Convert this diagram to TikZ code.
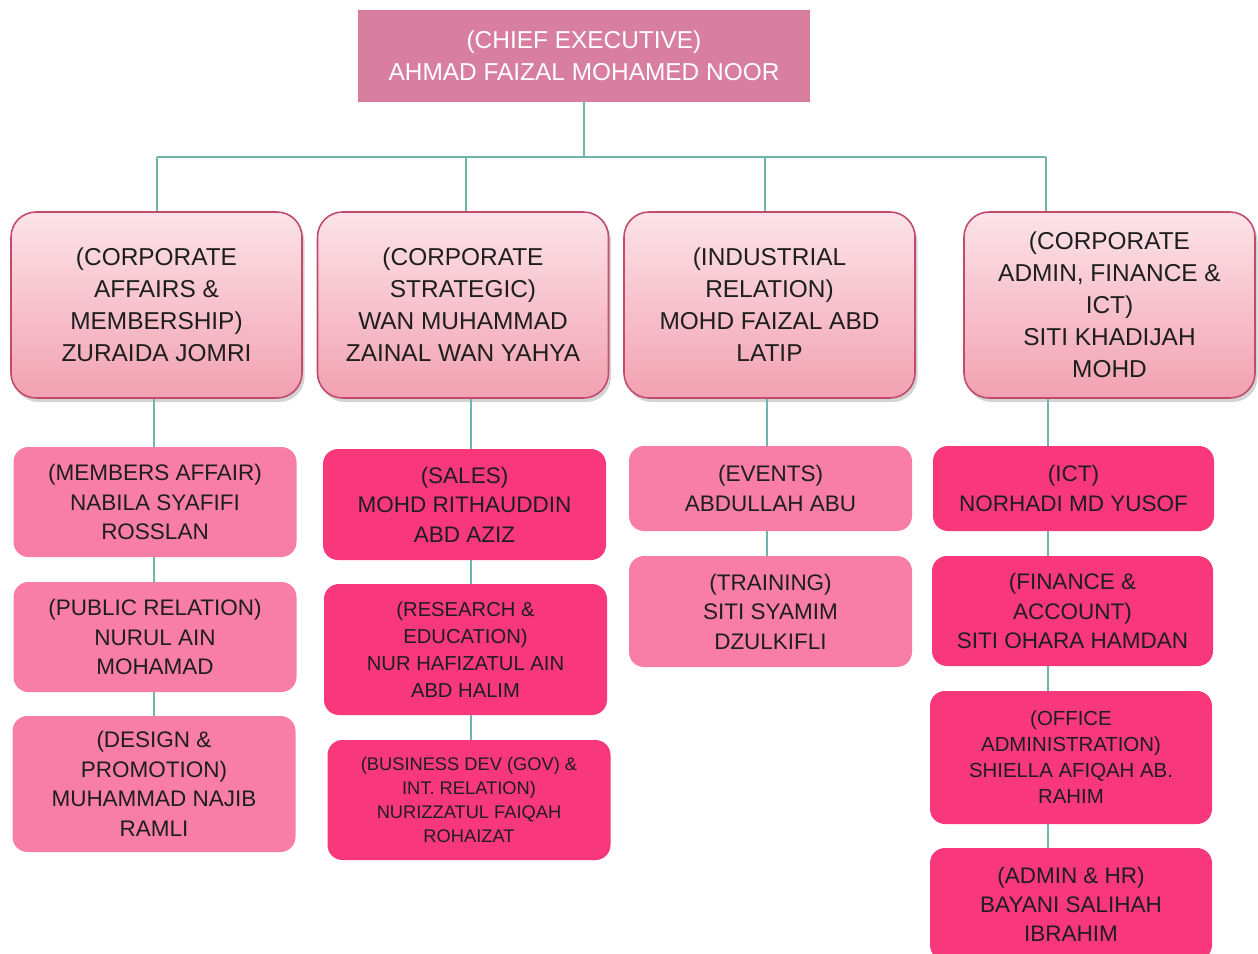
\documentclass[tikz,border=0pt]{standalone}
\usepackage{fontspec}
\setmainfont{Liberation Sans}
\usetikzlibrary{shadows}
\definecolor{ceopink}{HTML}{D87FA0}
\definecolor{depttop}{HTML}{FCE3E9}
\definecolor{deptbot}{HTML}{F2A1B1}
\definecolor{deptline}{HTML}{C24B6C}
\definecolor{unitlight}{HTML}{F87EA8}
\definecolor{unitdark}{HTML}{F8387B}
\definecolor{linkteal}{HTML}{6FB5AB}
\definecolor{inktext}{HTML}{1E1E1E}

\begin{document}
\begin{tikzpicture}[
  link/.style = {draw=linkteal, line width=0.9pt},
  ceobox/.style = {rectangle, fill=ceopink, text=white, align=center, inner sep=0pt,
    minimum width=9.04cm, minimum height=1.84cm, font=\fontsize{13.9}{18.2}\selectfont},
  deptbox/.style = {rectangle, rounded corners=0.5cm, draw=deptline, line width=0.9pt,
    top color=depttop, bottom color=deptbot,
    drop shadow={opacity=0.35, shadow xshift=0.05cm, shadow yshift=-0.08cm},
    text=inktext, align=center, inner sep=0pt, minimum width=5.82cm, minimum height=3.72cm,
    font=\fontsize{13.9}{18.2}\selectfont},
  unitbox/.style = {rectangle, rounded corners=0.3cm, text=inktext, align=center, inner sep=0pt,
    minimum width=5.66cm, font=\fontsize{12.8}{16.8}\selectfont},
  lightunit/.style = {unitbox, fill=unitlight},
  darkunit/.style = {unitbox, fill=unitdark}
]
\useasboundingbox (0, 0) rectangle (25.16, -19.08);

\node [ceobox] (ceo) at (11.68, -1.12) {(CHIEF EXECUTIVE)\\AHMAD FAIZAL MOHAMED NOOR};

\node [deptbox] (d1) at (3.13, -6.10) {(CORPORATE\\AFFAIRS \&\\MEMBERSHIP)\\ZURAIDA JOMRI};
\node [deptbox] (d2) at (9.26, -6.10) {(CORPORATE\\STRATEGIC)\\WAN MUHAMMAD\\ZAINAL WAN YAHYA};
\node [deptbox] (d3) at (15.39, -6.10) {(INDUSTRIAL\\RELATION)\\MOHD FAIZAL ABD\\LATIP};
\node [deptbox] (d4) at (22.19, -6.10) {(CORPORATE\\ADMIN, FINANCE \&\\ICT)\\SITI KHADIJAH\\MOHD};

\node [lightunit, minimum height=2.20cm] (mem) at (3.10, -10.04) {(MEMBERS AFFAIR)\\NABILA SYAFIFI\\ROSSLAN};
\node [lightunit, minimum height=2.20cm] (pr) at (3.10, -12.74) {(PUBLIC RELATION)\\NURUL AIN\\MOHAMAD};
\node [lightunit, minimum height=2.72cm] (des) at (3.08, -15.68) {(DESIGN \&\\PROMOTION)\\MUHAMMAD NAJIB\\RAMLI};

\node [darkunit, minimum height=2.22cm] (sal) at (9.29, -10.09) {(SALES)\\MOHD RITHAUDDIN\\ABD AZIZ};
\node [darkunit, minimum height=2.62cm, font=\fontsize{11.5}{15.4}\selectfont] (res) at (9.31, -12.99) {(RESEARCH \&\\EDUCATION)\\NUR HAFIZATUL AIN\\ABD HALIM};
\node [darkunit, minimum height=2.40cm, font=\fontsize{10.4}{13.7}\selectfont] (biz) at (9.38, -16.00) {(BUSINESS DEV (GOV) \&\\INT. RELATION)\\NURIZZATUL FAIQAH\\ROHAIZAT};

\node [lightunit, minimum height=1.70cm] (evt) at (15.41, -9.77) {(EVENTS)\\ABDULLAH ABU};
\node [lightunit, minimum height=2.22cm] (trn) at (15.41, -12.23) {(TRAINING)\\SITI SYAMIM\\DZULKIFLI};

\node [darkunit, minimum width=5.62cm, minimum height=1.70cm] (ict) at (21.47, -9.77) {(ICT)\\NORHADI MD YUSOF};
\node [darkunit, minimum width=5.62cm, minimum height=2.20cm] (fin) at (21.45, -12.22) {(FINANCE \&\\ACCOUNT)\\SITI OHARA HAMDAN};
\node [darkunit, minimum width=5.64cm, minimum height=2.66cm, font=\fontsize{11.6}{14.8}\selectfont] (off) at (21.42, -15.15) {(OFFICE\\ADMINISTRATION)\\SHIELLA AFIQAH AB.\\RAHIM};
\node [darkunit, minimum width=5.64cm, minimum height=2.24cm, font=\fontsize{12.8}{16.5}\selectfont] (adm) at (21.42, -18.08) {(ADMIN \& HR)\\BAYANI SALIHAH\\IBRAHIM};

\coordinate (bus) at (11.62, -3.14);
\coordinate (u1) at (3.14, 0);
\coordinate (u2) at (9.32, 0);
\coordinate (u3) at (15.30, 0);
\coordinate (u4) at (20.92, 0);
\coordinate (l1) at (3.08, 0);
\coordinate (l2) at (9.42, 0);
\coordinate (l3) at (15.34, 0);
\coordinate (l4) at (20.96, 0);

\draw [link] (ceo.south) -- (ceo.south |- bus);
\draw [link] (u1 |- bus) -- (u4 |- bus);
\foreach \c/\d in {u1/d1, u2/d2, u3/d3, u4/d4}{\draw [link] (\c |- bus) -- (\c |- \d.north);}

\foreach \a/\b in {d1/mem, mem/pr, pr/des}{\draw [link] (l1 |- \a.south) -- (l1 |- \b.north);}
\foreach \a/\b in {d2/sal, sal/res, res/biz}{\draw [link] (l2 |- \a.south) -- (l2 |- \b.north);}
\foreach \a/\b in {d3/evt, evt/trn}{\draw [link] (l3 |- \a.south) -- (l3 |- \b.north);}
\foreach \a/\b in {d4/ict, ict/fin, fin/off, off/adm}{\draw [link] (l4 |- \a.south) -- (l4 |- \b.north);}
\end{tikzpicture}
\end{document}
